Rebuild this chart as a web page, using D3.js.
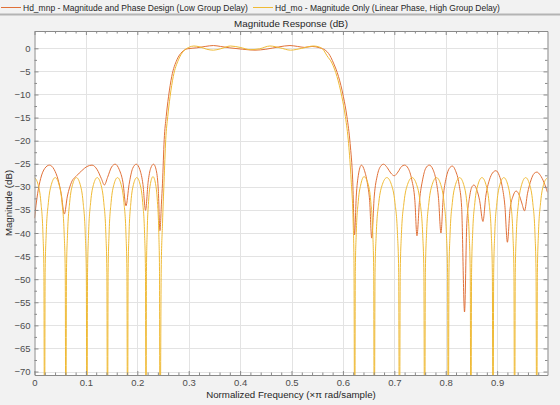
<!DOCTYPE html>
<html>
<head>
<meta charset="utf-8">
<style>
  body { margin: 0; background: #f2f2f2; }
  svg { display: block; font-family: "Liberation Sans", Arial, sans-serif; }
  .tick text { fill: #4d4d4d; font-size: 9.5px; }
</style>
<script src="https://cdn.jsdelivr.net/npm/d3@7"></script>
</head>
<body>
<svg id="chart" width="560" height="405"></svg>
<script>
// series names
var seriesNames = ["Hd_mnp - Magnitude and Phase Design (Low Group Delay)",
                   "Hd_mo - Magnitude Only (Linear Phase, High Group Delay)"];

// Hd_mnp (orange)
var mnpFreq = [0.000, 0.006, 0.012, 0.020, 0.029, 0.038, 0.046, 0.052, 0.058, 0.064, 0.072, 0.082, 0.092, 0.102, 0.112,
  0.122, 0.130, 0.136, 0.142, 0.150, 0.157, 0.165, 0.172, 0.178, 0.184, 0.191, 0.198, 0.205, 0.211, 0.216, 0.221,
  0.226, 0.2316, 0.237, 0.241, 0.244, 0.247, 0.249, 0.2523, 0.2562, 0.2607, 0.267, 0.277, 0.287, 0.298, 0.315,
  0.332, 0.348, 0.362, 0.380, 0.405, 0.429, 0.450, 0.475, 0.497, 0.512, 0.525, 0.540, 0.555, 0.5656, 0.572,
  0.5817, 0.5914, 0.601, 0.6078, 0.614, 0.619, 0.6226, 0.626, 0.630, 0.636, 0.642, 0.648, 0.652, 0.656, 0.661,
  0.667, 0.673, 0.679, 0.686, 0.693, 0.700, 0.707, 0.714, 0.720, 0.727, 0.734, 0.740, 0.744, 0.749, 0.755, 0.761,
  0.768, 0.775, 0.781, 0.786, 0.7907, 0.795, 0.801, 0.807, 0.8128, 0.819, 0.826, 0.831, 0.8366, 0.841, 0.846,
  0.851, 0.855, 0.860, 0.866, 0.8724, 0.878, 0.885, 0.891, 0.8977, 0.904, 0.910, 0.915, 0.920, 0.925, 0.931,
  0.937, 0.943, 0.948, 0.9533, 0.959, 0.966, 0.972, 0.9774, 0.984, 0.991, 0.998];
var mnpMag = [-36.8, -31.5, -28.2, -26.0, -25.3, -26.2, -28.5, -31.5, -35.9, -32.0, -29.0, -27.6, -26.5, -25.6, -25.3,
  -26.3, -28.2, -29.6, -28.0, -25.7, -25.1, -26.3, -29.0, -34.1, -29.5, -26.0, -25.1, -26.3, -29.5, -35.1, -29.0,
  -26.0, -25.1, -26.5, -31.0, -39.5, -33.5, -29.2, -19.8, -14.8, -10.5, -6.1, -2.5, -0.8, -0.1, 0.1,
  0.4, 0.6, 0.4, 0.1, -0.2, -0.4, -0.2, 0.3, 0.6, 0.4, 0.2, 0.4, 0.1, -0.4, -1.1,
  -3.2, -6.1, -10.5, -14.8, -20.6, -28.5, -40.4, -32.0, -27.5, -25.3, -26.5, -29.5, -33.0, -41.1, -32.0,
  -27.5, -25.6, -25.1, -25.8, -27.0, -27.6, -26.8, -25.6, -25.3, -26.0, -28.5, -33.0, -40.6, -33.0, -28.5, -26.0,
  -25.3, -26.2, -28.5, -32.5, -40.0, -32.5, -28.0, -26.0, -25.5, -26.5, -29.5, -34.5, -57.1, -38.0, -32.5,
  -30.0, -29.6, -30.5, -33.0, -37.5, -32.0, -28.5, -27.0, -26.5, -27.5, -30.0, -34.0, -42.0, -35.0, -32.0,
  -30.9, -31.8, -33.5, -35.2, -31.5, -28.5, -27.1, -26.8, -27.5, -29.0, -31.2];

// Hd_mo (yellow), nulls fall below the axis
var moFreq = [0.000, 0.007, 0.0125, 0.0164, 0.0183, 0.0195,
  0.0207, 0.0228, 0.027, 0.0328, 0.0403, 0.0477, 0.0535, 0.0577, 0.0598, 0.061,
  0.0622, 0.0643, 0.0684, 0.0741, 0.0815, 0.0889, 0.0946, 0.0987, 0.1008, 0.102,
  0.1032, 0.1052, 0.1092, 0.1148, 0.122, 0.1292, 0.1348, 0.1388, 0.1408, 0.142,
  0.1432, 0.1451, 0.149, 0.1545, 0.1615, 0.1685, 0.174, 0.1779, 0.1798, 0.181,
  0.1821, 0.1839, 0.1875, 0.1925, 0.199, 0.2055, 0.2105, 0.2141, 0.2159, 0.217,
  0.2178, 0.2192, 0.2219, 0.2256, 0.2305, 0.2354, 0.2391, 0.2418, 0.2432, 0.244,
  0.2465, 0.249, 0.252, 0.2553, 0.2592, 0.2637, 0.270, 0.280, 0.290, 0.300,
  0.310, 0.322, 0.335, 0.348, 0.362, 0.381, 0.400, 0.420, 0.438, 0.458, 0.478, 0.498, 0.520, 0.543, 0.556,
  0.563, 0.569, 0.5787, 0.5884, 0.598, 0.6048, 0.611, 0.616, 0.620, 0.6215, 0.623,
  0.6241, 0.626, 0.6298, 0.6352, 0.641, 0.6488, 0.6542, 0.658, 0.6599, 0.661,
  0.6625, 0.6649, 0.6698, 0.6767, 0.6855, 0.6943, 0.7012, 0.7061, 0.7085, 0.710,
  0.7115, 0.7139, 0.7188, 0.7257, 0.7345, 0.7433, 0.7502, 0.7551, 0.7575, 0.759,
  0.7604, 0.7627, 0.7673, 0.7737, 0.782, 0.7903, 0.7967, 0.8013, 0.8036, 0.805,
  0.8063, 0.8085, 0.8129, 0.8191, 0.827, 0.8349, 0.8411, 0.8455, 0.8477, 0.849,
  0.8503, 0.8524, 0.8567, 0.8628, 0.8705, 0.8782, 0.8843, 0.8886, 0.8907, 0.892,
  0.8933, 0.8954, 0.8996, 0.9054, 0.913, 0.9206, 0.9264, 0.9306, 0.9327, 0.934,
  0.9353, 0.9374, 0.9417, 0.9478, 0.9555, 0.9632, 0.9693, 0.9736, 0.9757, 0.977,
  0.9783, 0.9804, 0.9846, 0.9904, 0.998];
var moMag = [-28.0, -29.5, -33.4, -40.1, -48.5, -95,
  -48.5, -40.1, -33.4, -29.5, -28.0, -29.5, -33.4, -40.1, -48.5, -95,
  -48.5, -40.1, -33.4, -29.5, -28.0, -29.5, -33.4, -40.1, -48.5, -95,
  -48.5, -40.1, -33.4, -29.5, -28.0, -29.5, -33.4, -40.1, -48.5, -95,
  -48.5, -40.1, -33.4, -29.5, -28.0, -29.5, -33.4, -40.1, -48.5, -95,
  -48.5, -40.1, -33.4, -29.5, -28.0, -29.5, -33.4, -40.1, -48.5, -95,
  -48.3, -39.9, -33.2, -29.3, -27.8, -29.3, -33.2, -39.9, -48.3, -95,
  -48.0, -38.0, -29.0, -19.8, -14.8, -10.5, -6.1, -2.5, -0.6, 0.2,
  0.5, 0.3, -0.2, -0.4, -0.1, 0.5, 0.2, -0.3, -0.1, 0.5, 0.1, -0.4, 0.0, 0.5, 0.2,
  -0.5, -1.6, -3.2, -6.1, -10.5, -14.8, -20.6, -28.5, -38.0, -46.0, -95,
  -48.3, -39.9, -33.2, -29.3, -27.8, -29.3, -33.2, -39.9, -48.3, -95,
  -48.5, -40.1, -33.4, -29.5, -28.0, -29.5, -33.4, -40.1, -48.5, -95,
  -48.5, -40.1, -33.4, -29.5, -28.0, -29.5, -33.4, -40.1, -48.5, -95,
  -48.5, -40.1, -33.4, -29.5, -28.0, -29.5, -33.4, -40.1, -48.5, -95,
  -48.5, -40.1, -33.4, -29.5, -28.0, -29.5, -33.4, -40.1, -48.5, -95,
  -48.5, -40.1, -33.4, -29.5, -28.0, -29.5, -33.4, -40.1, -48.5, -95,
  -48.5, -40.1, -33.4, -29.5, -28.0, -29.5, -33.4, -40.1, -48.5, -95,
  -48.5, -40.1, -33.4, -29.5, -28.0, -29.5, -33.4, -40.1, -48.5, -95,
  -48.5, -40.1, -33.4, -29.5, -28.0];

// tick labels
var xTicks = [0, 0.1, 0.2, 0.3, 0.4, 0.5, 0.6, 0.7, 0.8, 0.9];
var yTicks = [0, -5, -10, -15, -20, -25, -30, -35, -40, -45, -50, -55, -60, -65, -70];

var colors = ["#E07038", "#EFBA35"];

var svg = d3.select("#chart");
var pl = 34.5, pr = 547.5, pt = 31, pb = 375;

var x = d3.scaleLinear().domain([0, 0.998]).range([pl, pr]);
var y = d3.scaleLinear().domain([-70.75, 3.75]).range([pb, pt]);

svg.append("rect").attr("width", 560).attr("height", 405).attr("fill", "#f2f2f2");
svg.append("rect").attr("x", pl).attr("y", pt).attr("width", pr - pl).attr("height", pb - pt).attr("fill", "white");

// grid
var g = svg.append("g");
g.selectAll(".gx").data(xTicks.slice(1)).enter().append("line")
  .attr("x1", function (d) { return Math.round(x(d)) + 0.5; }).attr("x2", function (d) { return Math.round(x(d)) + 0.5; })
  .attr("y1", pt).attr("y2", pb).attr("stroke", "#e3e3e3");
g.selectAll(".gy").data(yTicks).enter().append("line")
  .attr("y1", function (d) { return Math.round(y(d)) + 0.5; }).attr("y2", function (d) { return Math.round(y(d)) + 0.5; })
  .attr("x1", pl).attr("x2", pr).attr("stroke", "#e3e3e3");

// lines
svg.append("clipPath").attr("id", "clip").append("rect")
  .attr("x", pl).attr("y", pt).attr("width", pr - pl).attr("height", pb - pt);

var line = d3.line().curve(d3.curveMonotoneX)
  .x(function (d) { return x(d[0]); }).y(function (d) { return y(d[1]); });

var series = [d3.zip(mnpFreq, mnpMag), d3.zip(moFreq, moMag)];
var plot = svg.append("g").attr("clip-path", "url(#clip)");
series.forEach(function (s, i) {
  plot.append("path").datum(s).attr("fill", "none").attr("stroke", colors[i])
    .attr("stroke-width", 1).attr("d", line);
});

// axes with inward ticks
function styleAxis(sel) {
  sel.selectAll("path, line").attr("stroke", "#8a8a8a");
}
function noDomain(sel) { sel.select(".domain").remove(); }
var minorX = d3.range(0, 100, 2).map(function (d) { return d / 100; }).filter(function (d) { return xTicks.indexOf(d) < 0; });
var minorY = d3.range(0, 29).map(function (d) { return -70 + d * 2.5; }).filter(function (d) { return yTicks.indexOf(d) < 0; });

svg.append("g").attr("transform", "translate(0," + pb + ")")
  .call(d3.axisBottom(x).tickValues(xTicks).tickSizeInner(-4).tickSizeOuter(0).tickPadding(4).tickFormat(d3.format("")))
  .call(styleAxis);
svg.append("g").attr("transform", "translate(0," + pb + ")")
  .call(d3.axisBottom(x).tickValues(minorX).tickSize(-2.5).tickFormat(""))
  .call(noDomain).call(styleAxis);
svg.append("g").attr("transform", "translate(0," + pt + ")")
  .call(d3.axisTop(x).tickValues(xTicks).tickSizeInner(-4).tickSizeOuter(0).tickFormat(""))
  .call(styleAxis);
svg.append("g").attr("transform", "translate(0," + pt + ")")
  .call(d3.axisTop(x).tickValues(minorX).tickSize(-2.5).tickFormat(""))
  .call(noDomain).call(styleAxis);

svg.append("g").attr("transform", "translate(" + pl + ",0)")
  .call(d3.axisLeft(y).tickValues(yTicks).tickSizeInner(-4).tickSizeOuter(0).tickPadding(4))
  .call(styleAxis);
svg.append("g").attr("transform", "translate(" + pl + ",0)")
  .call(d3.axisLeft(y).tickValues(minorY).tickSize(-2.5).tickFormat(""))
  .call(noDomain).call(styleAxis);
svg.append("g").attr("transform", "translate(" + pr + ",0)")
  .call(d3.axisRight(y).tickValues(yTicks).tickSizeInner(-4).tickSizeOuter(0).tickFormat(""))
  .call(styleAxis);
svg.append("g").attr("transform", "translate(" + pr + ",0)")
  .call(d3.axisRight(y).tickValues(minorY).tickSize(-2.5).tickFormat(""))
  .call(noDomain).call(styleAxis);

// titles
svg.append("text").attr("x", (pl + pr) / 2).attr("y", 27).attr("text-anchor", "middle")
  .attr("font-size", 9.8).attr("fill", "#262626").text("Magnitude Response (dB)");
svg.append("text").attr("x", (pl + pr) / 2).attr("y", 398).attr("text-anchor", "middle")
  .attr("font-size", 9.7).attr("fill", "#262626").text("Normalized Frequency (\u00d7\u03c0 rad/sample)");
svg.append("text").attr("transform", "translate(12," + (pt + pb) / 2 + ") rotate(-90)")
  .attr("text-anchor", "middle").attr("font-size", 9.7).attr("fill", "#262626").text("Magnitude (dB)");

// legend
svg.append("line").attr("x1", 0).attr("x2", 560).attr("y1", 14.5).attr("y2", 14.5)
  .attr("stroke", "#b4b4b4").attr("stroke-width", 2);
var legX = [1, 253];
seriesNames.forEach(function (name, i) {
  svg.append("line").attr("x1", legX[i]).attr("x2", legX[i] + 20).attr("y1", 7.5).attr("y2", 7.5)
    .attr("stroke", colors[i]).attr("stroke-width", 1);
  svg.append("text").attr("x", legX[i] + 22).attr("y", 10.5).attr("font-size", 8.5)
    .attr("fill", "#262626").text(name);
});
</script>
</body>
</html>
